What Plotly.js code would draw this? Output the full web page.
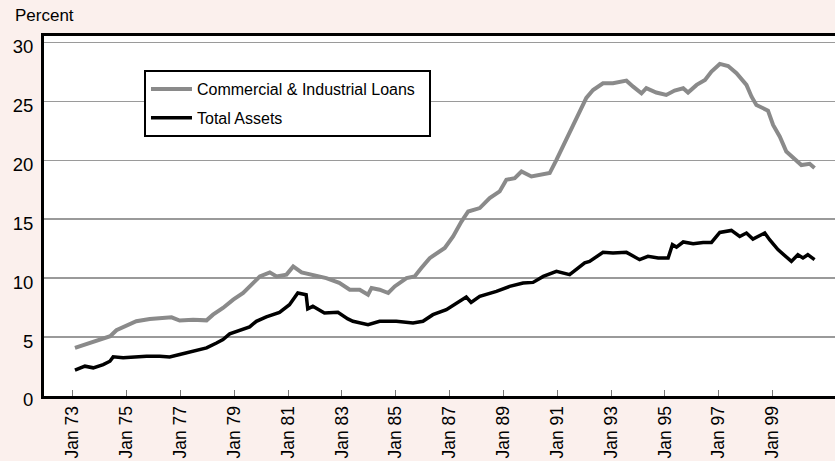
<!DOCTYPE html>
<html>
<head>
<meta charset="utf-8">
<script src="https://cdn.plot.ly/plotly-3.0.1.min.js"></script>
<style>html,body{margin:0;padding:0;background:#fbf0ed;}#chart{width:835px;height:461px;}</style>
</head>
<body>
<div id="chart"></div>
<script>
// Decimal-year dates and percent values
var ciDates = [1973.08,1973.64,1974.13,1974.39,1974.62,1974.99,1975.36,1975.86,1976.23,1976.67,1976.97,1977.47,1977.97,1978.21,1978.58,1978.96,1979.33,1979.64,1979.95,1980.32,1980.57,1980.94,1981.19,1981.5,1981.93,1982.42,1982.9,1983.29,1983.66,1983.97,1984.1,1984.4,1984.72,1984.96,1985.4,1985.7,1985.95,1986.26,1986.82,1987.13,1987.44,1987.69,1988.12,1988.49,1988.86,1989.11,1989.42,1989.67,1990.04,1990.35,1990.72,1990.97,1991.21,1991.52,1991.83,1992.08,1992.33,1992.7,1993.07,1993.57,1993.82,1994.13,1994.31,1994.68,1995.05,1995.36,1995.68,1995.86,1996.18,1996.49,1996.73,1997.04,1997.35,1997.66,1998.03,1998.22,1998.4,1998.83,1999.02,1999.27,1999.51,1999.88,2000.07,2000.38,2000.56];
var ciValues = [4.08,4.5,4.79,5.07,5.58,5.97,6.34,6.54,6.63,6.68,6.40,6.48,6.42,6.9,7.47,8.18,8.74,9.45,10.15,10.49,10.15,10.3,11.0,10.49,10.3,10.0,9.6,9.02,9.02,8.6,9.17,9.02,8.74,9.3,10.0,10.15,10.86,11.7,12.56,13.54,14.8,15.66,15.95,16.8,17.36,18.35,18.49,19.05,18.63,18.77,18.92,20.04,21.17,22.58,24.1,25.3,25.97,26.54,26.54,26.76,26.25,25.69,26.12,25.75,25.55,25.92,26.12,25.75,26.4,26.82,27.53,28.18,28.0,27.39,26.4,25.4,24.7,24.22,23.0,22.0,20.75,20.04,19.6,19.7,19.34];

var taDates = [1973.08,1973.45,1973.76,1974.13,1974.38,1974.5,1974.87,1975.24,1975.74,1976.23,1976.6,1976.97,1977.47,1977.97,1978.34,1978.58,1978.83,1979.2,1979.57,1979.82,1980.19,1980.68,1981.05,1981.36,1981.67,1981.73,1981.92,1982.35,1982.85,1983.22,1983.41,1983.97,1984.4,1985.02,1985.64,1986.01,1986.38,1986.88,1987.25,1987.62,1987.8,1988.12,1988.74,1989.23,1989.73,1990.1,1990.48,1990.97,1991.46,1991.71,1992.02,1992.2,1992.7,1993.07,1993.57,1994.06,1994.37,1994.75,1995.12,1995.28,1995.43,1995.68,1996.05,1996.42,1996.73,1997.04,1997.47,1997.78,1998.03,1998.27,1998.71,1998.89,1999.2,1999.7,1999.94,2000.13,2000.31,2000.56];
var taValues = [2.19,2.53,2.39,2.67,2.95,3.32,3.24,3.32,3.37,3.37,3.32,3.52,3.8,4.08,4.5,4.79,5.27,5.58,5.86,6.34,6.71,7.1,7.75,8.74,8.6,7.39,7.61,7.05,7.1,6.54,6.34,6.06,6.34,6.34,6.2,6.34,6.9,7.33,7.9,8.4,7.95,8.46,8.88,9.3,9.59,9.64,10.15,10.58,10.3,10.72,11.3,11.42,12.19,12.14,12.19,11.57,11.85,11.71,11.71,12.84,12.64,13.07,12.92,13.03,13.03,13.88,14.05,13.54,13.83,13.32,13.83,13.26,12.42,11.42,11.99,11.71,11.99,11.57];

var tickYears = [1973,1975,1977,1979,1981,1983,1985,1987,1989,1991,1993,1995,1997,1999];
var tickLabels = ["Jan 73","Jan 75","Jan 77","Jan 79","Jan 81","Jan 83","Jan 85","Jan 87","Jan 89","Jan 91","Jan 93","Jan 95","Jan 97","Jan 99"];
var yTicks = [0,5,10,15,20,25,30];
var seriesNames = ["Commercial & Industrial Loans","Total Assets"];

var font = "Liberation Sans, Arial, Helvetica, sans-serif";
var pad = "\u00a0\u00a0"; // right padding inside the legend box

var traces = [
  {x: ciDates, y: ciValues, name: seriesNames[0] + pad, legendgroup: "a", type: "scatter", mode: "lines",
   line: {color: "#8a8a8a", width: 4}},
  {x: taDates, y: taValues, name: seriesNames[1], legendgroup: "b", type: "scatter", mode: "lines",
   line: {color: "#000000", width: 3.5}}
];

var layout = {
  width: 835, height: 461,
  margin: {l: 44, r: 0, t: 36, b: 65, pad: 0},
  paper_bgcolor: "#fbf0ed",
  plot_bgcolor: "#ffffff",
  font: {family: font, size: 17, color: "#000"},
  showlegend: true,
  legend: {
    x: 0.1264, y: 0.9056, xanchor: "left", yanchor: "top",
    bgcolor: "#ffffff", bordercolor: "#000000", borderwidth: 2,
    font: {family: font, size: 16, color: "#000"},
    traceorder: "grouped", tracegroupgap: 5,
    itemwidth: 41
  },
  xaxis: {
    range: [1971.93, 2001.32],
    tickvals: tickYears, ticktext: tickLabels,
    tickangle: -90,
    ticks: "inside", ticklen: 6, tickwidth: 1, tickcolor: "#777",
    showgrid: false, zeroline: false,
    showline: true, linecolor: "#000", linewidth: 3, mirror: true,
    tickfont: {family: font, size: 17.5, color: "#000"},
    ticklabelstandoff: 0
  },
  yaxis: {
    range: [0, 30.55],
    tickvals: yTicks,
    ticks: "", showgrid: true, gridcolor: "#9a9a9a", gridwidth: 1.5,
    zeroline: false,
    showline: true, linecolor: "#000", linewidth: 3,
    tickfont: {family: font, size: 18.5, color: "#000"},
    ticklabelstandoff: 4, ticklabelshift: 4
  },
  annotations: [
    {text: "Percent", xref: "paper", yref: "paper", x: -0.0396, y: 1.0556,
     xanchor: "left", yanchor: "middle", showarrow: false,
     font: {family: font, size: 17, color: "#000"}}
  ]
};

Plotly.newPlot("chart", traces, layout, {displayModeBar: false, staticPlot: true});
</script>
</body>
</html>
